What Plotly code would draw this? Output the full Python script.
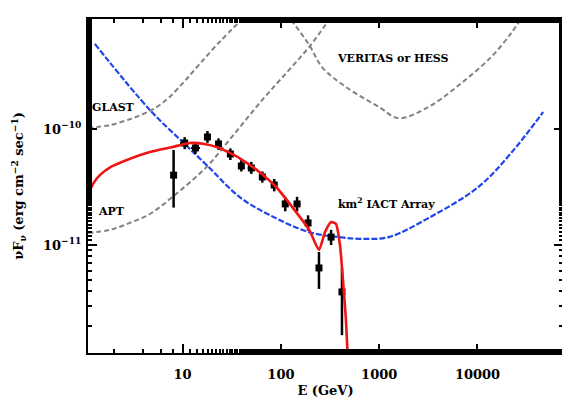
import plotly.graph_objects as go

# ---- data ----
red_E = [1.09, 1.25, 1.44, 1.9, 2.71, 4.64, 7.92, 11.8, 16.7, 23.7, 37.8, 60.3, 89.5, 130, 194, 244, 281, 324, 363, 399, 428, 459, 481]
red_F = [2.75e-11, 3.45e-11, 4.0e-11, 4.75e-11, 5.41e-11, 6.34e-11, 7.0e-11, 7.57e-11, 7.43e-11, 6.86e-11, 5.62e-11, 4.26e-11,
         3.16e-11, 2.13e-11, 1.35e-11, 9.06e-12, 1.29e-11, 1.58e-11, 1.52e-11, 1.0e-11, 4.99e-12, 2.25e-12, 1.0e-12]

blue_E = [1.28, 4.64, 10, 17.5, 37.8, 76, 194, 390, 667, 1250, 3180, 10200, 22000, 46600]
blue_F = [5.41e-10, 1.46e-10, 7.72e-11, 4.9e-11, 2.6e-11, 1.82e-11, 1.29e-11, 1.17e-11, 1.13e-11, 1.17e-11,
          1.71e-11, 3.16e-11, 6.21e-11, 1.40e-10]

glast_E = [1.09, 1.82, 3.11, 4.64, 5.85, 7.38, 10.5, 14.9, 23.7, 39.6]
glast_F = [1.02e-10, 1.08e-10, 1.24e-10, 1.43e-10, 1.61e-10, 1.89e-10, 2.59e-10, 3.63e-10, 5.62e-10, 8.7e-10]

apt_E = [1.09, 1.82, 2.9, 4.64, 7.9, 17.5, 29.9, 64.7, 121, 194, 308]
apt_F = [1.27e-11, 1.35e-11, 1.55e-11, 1.85e-11, 2.6e-11, 4.7e-11, 8.04e-11, 1.78e-10, 3.23e-10, 5.09e-10, 8.7e-10]

veritas_E = [127, 194, 262, 459, 991, 1580, 3180, 6870, 13800, 22100, 27200]
veritas_F = [8.7e-10, 5.3e-10, 3.42e-10, 2.3e-10, 1.55e-10, 1.24e-10, 1.55e-10, 2.49e-10, 4.18e-10, 6.73e-10, 8.7e-10]

pt_E = [8.1, 10.5, 13.5, 17.9, 23.2, 30.6, 39.6, 50, 64.7, 85.5, 110.7, 146, 189, 244, 324, 418]
pt_F = [4.0e-11, 7.57e-11, 6.86e-11, 8.53e-11, 7.43e-11, 6.09e-11, 4.80e-11, 4.61e-11, 3.86e-11, 3.29e-11,
        2.26e-11, 2.26e-11, 1.55e-11, 6.34e-12, 1.17e-11, 3.94e-12]
pt_Fhi = [6.6e-11, 8.5e-11, 7.7e-11, 9.6e-11, 8.3e-11, 6.8e-11, 5.4e-11, 5.2e-11, 4.3e-11, 3.7e-11,
          2.6e-11, 2.6e-11, 1.8e-11, 8.7e-12, 1.35e-11, 6.3e-12]
pt_Flo = [2.1e-11, 6.7e-11, 6.1e-11, 7.6e-11, 6.6e-11, 5.4e-11, 4.3e-11, 4.1e-11, 3.45e-11, 2.9e-11,
          1.95e-11, 1.95e-11, 1.33e-11, 4.18e-12, 1.0e-11, 1.67e-12]
pt_Ehi = [8.1, 11.8, 15.0, 17.9, 24.5, 30.6, 39.6, 54, 64.7, 92, 110.7, 158, 189, 244, 340, 418]
pt_Elo = [8.1, 9.4, 12.2, 17.9, 22.0, 30.6, 39.6, 46, 64.7, 79, 110.7, 135, 189, 244, 308, 418]

y_tickvals = [1e-11, 1e-10]
y_ticktext = ["10<sup>−11</sup>", "10<sup>−10</sup>"]
x_tickvals = [10, 100, 1000, 10000]
x_ticktext = ["10", "100", "1000", "10000"]

FONT = "DejaVu Serif"

fig = go.Figure()

gray = dict(color="rgb(130,130,130)", width=2, dash="5px,3px")
fig.add_trace(go.Scatter(x=glast_E, y=glast_F, mode="lines", line=dict(shape="spline", **gray), showlegend=False))
fig.add_trace(go.Scatter(x=apt_E, y=apt_F, mode="lines", line=dict(shape="spline", **gray), showlegend=False))
fig.add_trace(go.Scatter(x=veritas_E, y=veritas_F, mode="lines", line=dict(shape="spline", **gray), showlegend=False))

fig.add_trace(go.Scatter(x=blue_E, y=blue_F, mode="lines",
                         line=dict(color="rgb(30,70,235)", width=2.2, dash="6px,2px", shape="spline"),
                         showlegend=False))

err_plus = [h - f for h, f in zip(pt_Fhi, pt_F)]
err_minus = [f - l for f, l in zip(pt_F, pt_Flo)]
ex_plus = [h - e for h, e in zip(pt_Ehi, pt_E)]
ex_minus = [e - l for e, l in zip(pt_E, pt_Elo)]
fig.add_trace(go.Scatter(x=pt_E, y=pt_F, mode="markers",
                         marker=dict(symbol="square", size=7, color="black"),
                         error_y=dict(type="data", symmetric=False, array=err_plus, arrayminus=err_minus,
                                      color="black", thickness=2.5, width=0),
                         error_x=dict(type="data", symmetric=False, array=ex_plus, arrayminus=ex_minus,
                                      color="black", thickness=2, width=0),
                         showlegend=False))

fig.add_trace(go.Scatter(x=red_E, y=red_F, mode="lines",
                         line=dict(color="rgb(240,20,20)", width=2.6, shape="spline", smoothing=0.5),
                         showlegend=False))

axis_common = dict(type="log", showline=True, linecolor="black", linewidth=2, mirror="ticks",
                   ticks="inside", ticklen=9, tickwidth=2, tickcolor="black", showgrid=False, zeroline=False,
                   minor=dict(ticks="inside", ticklen=4, tickwidth=1.5, tickcolor="black", showgrid=False),
                   tickfont=dict(family=FONT, size=13, color="black", weight="bold"))

fig.update_xaxes(range=[0.0375, 4.87], tickvals=x_tickvals, ticktext=x_ticktext, ticklabelstandoff=8,
                 title=dict(text="E (GeV)", font=dict(family=FONT, size=13, color="black", weight="bold"), standoff=5),
                 **axis_common)
fig.update_yaxes(range=[-11.931, -9.052], tickvals=y_tickvals, ticktext=y_ticktext, ticklabelstandoff=2,
                 title=dict(text="νF<sub>ν</sub> (erg cm<sup>−2</sup> sec<sup>−1</sup>)",
                            font=dict(family=FONT, size=13, color="black", weight="bold"), standoff=16),
                 **axis_common)

lab_font = dict(family=FONT, size=11, color="black", weight="bold")
for txt, px, py in [("GLAST", 0.053, 0.734), ("APT", 0.050, 0.425),
                    ("VERITAS or HESS", 0.642, 0.883), ("km<sup>2</sup> IACT Array", 0.629, 0.449)]:
    fig.add_annotation(text=txt, x=px, y=py, xref="paper", yref="paper", showarrow=False,
                       font=lab_font, xanchor="center", yanchor="middle")

# the page body adds an 8px offset, so the figure is sized/margined to compensate
fig.update_layout(width=562, height=393, margin=dict(l=80, r=5, t=11, b=48),
                  paper_bgcolor="white", plot_bgcolor="white", showlegend=False)

fig.write_html("out.html")
